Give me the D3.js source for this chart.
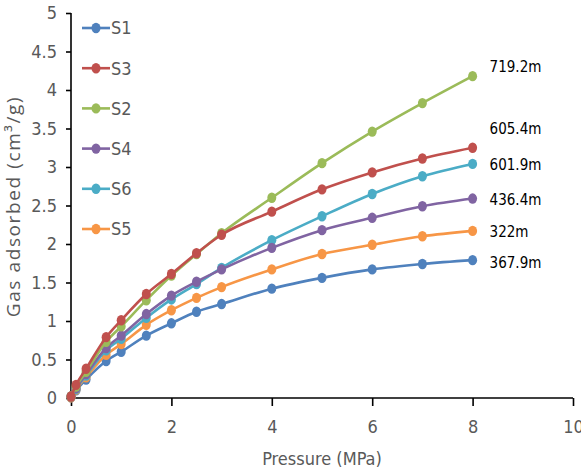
<!DOCTYPE html>
<html>
<head>
<meta charset="utf-8">
<script src="https://cdn.jsdelivr.net/npm/d3@7"></script>
<style>
  body { margin: 0; background: #fff; }
  svg text { font-family: "DejaVu Sans Condensed", "Liberation Sans", sans-serif; font-stretch: condensed; }
</style>
</head>
<body>
<div id="chart"></div>
<script>
// pressure steps (MPa)
const pressure = [0, 0.1, 0.3, 0.7, 1, 1.5, 2, 2.5, 3, 4, 5, 6, 7, 8];

const seriesNames = ["S1", "S3", "S2", "S4", "S6", "S5"];
const seriesColors = ["#4f81bd", "#c0504d", "#9bbb59", "#8064a2", "#4bacc6", "#f79646"];

const s1 = [0.01, 0.10, 0.24, 0.48, 0.60, 0.81, 0.97, 1.12, 1.22, 1.42, 1.56, 1.67, 1.74, 1.79];
const s3 = [0.02, 0.17, 0.38, 0.79, 1.01, 1.35, 1.61, 1.88, 2.12, 2.42, 2.71, 2.93, 3.11, 3.25];
const s2 = [0.02, 0.15, 0.34, 0.73, 0.93, 1.27, 1.59, 1.87, 2.14, 2.60, 3.05, 3.46, 3.83, 4.18];
const s4 = [0.02, 0.13, 0.31, 0.65, 0.81, 1.09, 1.33, 1.51, 1.67, 1.95, 2.18, 2.34, 2.49, 2.59];
const s6 = [0.02, 0.12, 0.29, 0.62, 0.77, 1.04, 1.28, 1.48, 1.69, 2.05, 2.36, 2.65, 2.88, 3.04];
const s5 = [0.01, 0.11, 0.27, 0.56, 0.70, 0.95, 1.14, 1.30, 1.44, 1.67, 1.87, 1.99, 2.10, 2.17];
const seriesValues = [s1, s3, s2, s4, s6, s5];

// depth labels at the end of the curves (text, and the y value they sit at)
const depthLabels = ["719.2m", "605.4m", "601.9m", "436.4m", "322m", "367.9m"];
const depthLabelY = [4.30, 3.50, 3.03, 2.58, 2.16, 1.76];

const xTicks = [0, 2, 4, 6, 8, 10];
const yTicks = [0, 0.5, 1, 1.5, 2, 2.5, 3, 3.5, 4, 4.5, 5];

const margin = {top: 13, right: 8, bottom: 75, left: 71},
  width = 581 - margin.left - margin.right,
  height = 473 - margin.top - margin.bottom;

const svgRoot = d3.select("#chart")
  .append("svg")
  .attr("width", 581)
  .attr("height", 473);

const svg = svgRoot.append("g")
  .attr("transform", "translate(" + margin.left + "," + margin.top + ")");

const x = d3.scaleLinear().domain([0, 10]).range([0, width]);
const y = d3.scaleLinear().domain([0, 5]).range([height, 0]);

// axes
const xAxis = svg.append("g")
  .attr("transform", "translate(0," + height + ")")
  .call(d3.axisBottom(x).tickValues(xTicks).tickSize(8).tickPadding(14).tickFormat(d3.format("")));

const yAxis = svg.append("g")
  .call(d3.axisLeft(y).tickValues(yTicks).tickSize(5).tickPadding(9).tickFormat(d3.format("")));

[xAxis, yAxis].forEach(function (a) {
  a.select(".domain").attr("stroke", "#000").attr("stroke-width", 1.6);
  a.selectAll(".tick line").attr("stroke", "#000").attr("stroke-width", 1.6);
  a.selectAll(".tick text")
    .attr("fill", "#595959")
    .style("font-size", "18px");
});
xAxis.select(".domain").attr("d", "M0,0H" + width);
yAxis.select(".domain").attr("d", "M0,0V" + height);

// axis titles
svg.append("text")
  .attr("x", x(5))
  .attr("y", height + 67)
  .attr("text-anchor", "middle")
  .attr("fill", "#595959")
  .style("font-size", "18px")
  .text("Pressure (MPa)");

svg.append("text")
  .attr("transform", "translate(" + (-51) + "," + (height / 2 + 1) + ") rotate(-90)")
  .attr("text-anchor", "middle")
  .attr("fill", "#595959")
  .style("font-family", "'Open Sans', 'DejaVu Sans', sans-serif")
  .style("font-stretch", "normal")
  .style("font-size", "19px")
  .style("letter-spacing", "1.6px")
  .text("Gas adsorbed (cm³/g)");

// series
const line = d3.line()
  .x(function (d) { return x(d[0]); })
  .y(function (d) { return y(d[1]); })
  .curve(d3.curveMonotoneX);

const drawOrder = [0, 5, 4, 3, 2, 1];
drawOrder.forEach(function (i) {
  const pts = pressure.map(function (p, j) { return [p, seriesValues[i][j]]; });
  const g = svg.append("g");
  g.append("path")
    .datum(pts)
    .attr("fill", "none")
    .attr("stroke", seriesColors[i])
    .attr("stroke-width", 2.6)
    .attr("d", line);
  g.selectAll("ellipse")
    .data(pts)
    .enter()
    .append("ellipse")
    .attr("cx", function (d) { return x(d[0]); })
    .attr("cy", function (d) { return y(d[1]); })
    .attr("rx", 4.5)
    .attr("ry", 5.2)
    .attr("fill", seriesColors[i]);
});

// depth labels
svg.selectAll(".depth-label")
  .data(depthLabels)
  .enter()
  .append("text")
  .attr("class", "depth-label")
  .attr("x", x(8) + 17)
  .attr("y", function (d, i) { return y(depthLabelY[i]); })
  .attr("dy", "0.35em")
  .attr("fill", "#000")
  .style("font-size", "15px")
  .text(function (d) { return d; });

// legend
const legend = svg.selectAll(".legend-item")
  .data(seriesNames)
  .enter()
  .append("g")
  .attr("class", "legend-item")
  .attr("transform", function (d, i) { return "translate(11," + (15 + i * 40.2) + ")"; });

legend.append("line")
  .attr("x1", 0).attr("x2", 28)
  .attr("stroke", function (d, i) { return seriesColors[i]; })
  .attr("stroke-width", 2.6);
legend.append("ellipse")
  .attr("cx", 14).attr("rx", 4.5).attr("ry", 5.2)
  .attr("fill", function (d, i) { return seriesColors[i]; });
legend.append("text")
  .attr("x", 29)
  .attr("dy", "0.35em")
  .attr("fill", "#595959")
  .style("font-size", "18px")
  .text(function (d) { return d; });
</script>
</body>
</html>
